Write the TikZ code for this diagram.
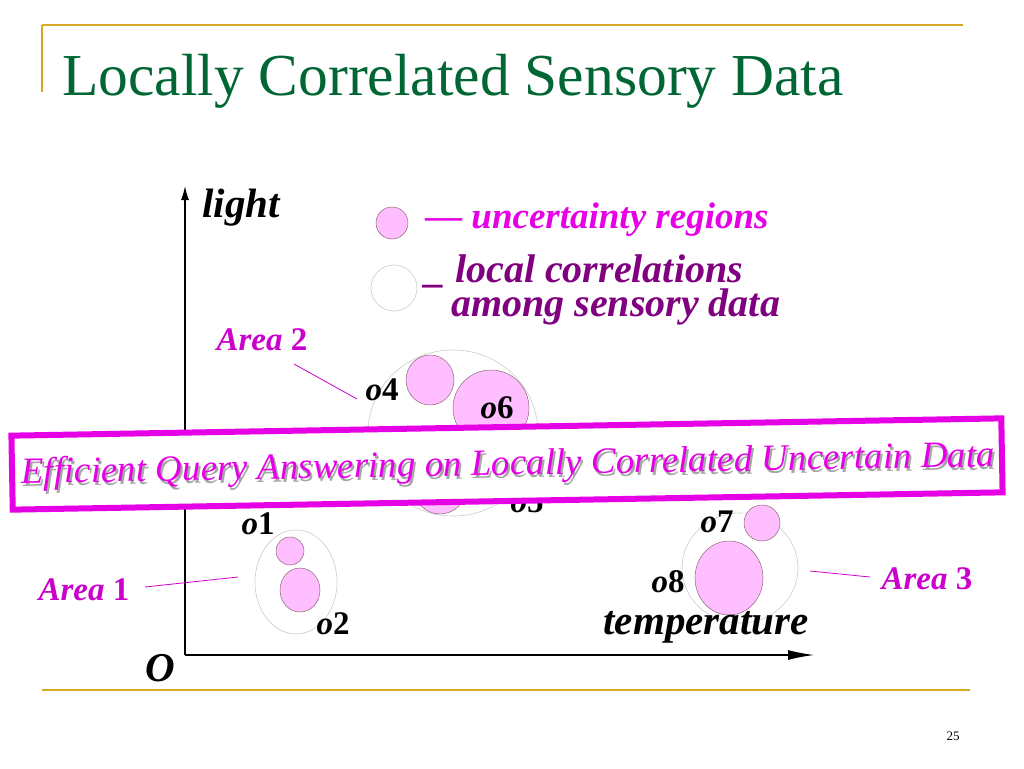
\documentclass[tikz,border=0pt]{standalone}
\usetikzlibrary{arrows.meta,shapes.geometric}
\usepackage{fontspec}
\setmainfont{Liberation Serif}
\definecolor{ttl}{RGB}{0,102,51}
\definecolor{gold}{RGB}{214,170,40}
\definecolor{mag}{RGB}{230,0,230}
\definecolor{amag}{RGB}{204,0,204}
\definecolor{purp}{RGB}{128,0,128}
\definecolor{pinkf}{RGB}{255,190,255}
\begin{document}
\begin{tikzpicture}[x=1pt,y=-1pt,
  unc/.style={draw=gray!80!purple,line width=0.5pt,fill=pinkf},
  loc/.style={draw=gray!40,line width=0.6pt},
  lbl/.style={font=\fontsize{37}{37}\selectfont\bfseries\itshape,inner sep=0},
  obj/.style={font=\fontsize{33}{33}\selectfont\bfseries,inner sep=0},
  area/.style={font=\fontsize{33}{33}\selectfont\bfseries,text=amag,inner sep=0},
  aline/.style={draw=amag,line width=0.8pt}]
\useasboundingbox (0,0) rectangle (1024,768);
\fill[white] (0,0) rectangle (1024,768);
% frame lines
\draw[gold,line width=1.5pt] (42,25) -- (963,25);
\draw[gold,line width=1.5pt] (42,25) -- (42,92);
\draw[gold,line width=1.5pt] (42,690) -- (970,690);
\node[anchor=base west,inner sep=0,text=ttl,font=\fontsize{59.5}{60}\selectfont] (title) at (62,95) {Locally Correlated Sensory Data};
\node[font=\fontsize{13}{13}\selectfont,inner sep=0] (pg) at (953,736) {25};
% axes
\coordinate (orig) at (185,655);
\coordinate (ytop) at (185,186);
\coordinate (xend) at (814,655);
\draw[line width=1.3pt,-{Latex[length=14pt,width=8pt]}] (orig) -- (ytop);
\draw[line width=1.3pt,-{Latex[length=26pt,width=10pt]}] (orig) -- (xend);
\node[lbl,font=\fontsize{41}{41}\selectfont\bfseries\itshape] (light) at (241,208) {light};
\node[lbl,font=\fontsize{41}{41}\selectfont\bfseries\itshape] (O) at (160,668) {O};
% legend
\node[unc,circle,minimum size=32pt,inner sep=0] (lg1) at (392,223) {};
\node[loc,circle,minimum size=46pt,inner sep=0] (lg2) at (394,288) {};
\node[lbl,text=mag,anchor=west] (lt1) at (425,220) {\textup{---} uncertainty regions};
\node[lbl,text=purp,anchor=west,align=left,font=\fontsize{40}{33}\selectfont\bfseries\itshape] (lt2) at (425,290) {\_ local correlations\\\hspace*{-4pt}\phantom{\_ }among sensory data};
% area 2
\node[loc,ellipse,minimum width=170pt,minimum height=166pt,inner sep=0] (a2) at (453,433) {};
\node[unc,ellipse,minimum width=48pt,minimum height=50pt,inner sep=0] (c4) at (430,380) {};
\node[unc,circle,minimum size=76pt,inner sep=0] (c6) at (491,408) {};
\node[unc,circle,minimum size=52pt,inner sep=0] (c5) at (440,488) {};
\node[obj] (o4) at (382,390) {\textit{o}4};
\node[obj] (o6) at (497,408) {\textit{o}6};
\node[obj] (o5) at (527,502) {\textit{o}5};
% area 1
\node[loc,ellipse,minimum width=82pt,minimum height=104pt,inner sep=0] (a1) at (296,582) {};
\node[unc,circle,minimum size=28pt,inner sep=0] (c1) at (290,551) {};
\node[unc,ellipse,minimum width=40pt,minimum height=44pt,inner sep=0] (c2) at (300,590) {};
\node[obj] (o1) at (258,524) {\textit{o}1};
\node[obj] (o2) at (333,624) {\textit{o}2};
% area 3
\node[loc,ellipse,minimum width=116pt,minimum height=110pt,inner sep=0] (a3) at (740,568) {};
\node[unc,circle,minimum size=36pt,inner sep=0] (c7) at (762,523) {};
\node[unc,ellipse,minimum width=68pt,minimum height=74pt,inner sep=0] (c8) at (729,578) {};
\node[obj] (o7) at (717,522) {\textit{o}7};
\node[obj] (o8) at (668,582) {\textit{o}8};
\node[lbl,font=\fontsize{41}{41}\selectfont\bfseries\itshape] (temp) at (706,627) {temperature};
% area labels
\node[area] (ar2) at (262,340) {\textit{Area} 2};
\node[area] (ar1) at (84,590) {\textit{Area} 1};
\node[area] (ar3) at (927,579) {\textit{Area} 3};
\coordinate (l2a) at (294,364); \coordinate (l2b) at (357,399);
\coordinate (l1a) at (145,587); \coordinate (l1b) at (238,577);
\coordinate (l3a) at (810,571); \coordinate (l3b) at (870,577);
\draw[aline] (l2a) -- (l2b);
\draw[aline] (l1a) -- (l1b);
\draw[aline] (l3a) -- (l3b);
% banner
\node[draw=mag,line width=6pt,fill=white,rotate=1,minimum width=990pt,minimum height=74pt] (ban) at (507,464) {};
\node[rotate=1,text=gray!70,font=\fontsize{37}{37}\selectfont\itshape] (bansh) at (510,469) {Efficient Query Answering on Locally Correlated Uncertain Data};
\node[rotate=1,text=mag,font=\fontsize{37}{37}\selectfont\itshape] (bant) at (508,466) {Efficient Query Answering on Locally Correlated Uncertain Data};
\end{tikzpicture}
\end{document}
